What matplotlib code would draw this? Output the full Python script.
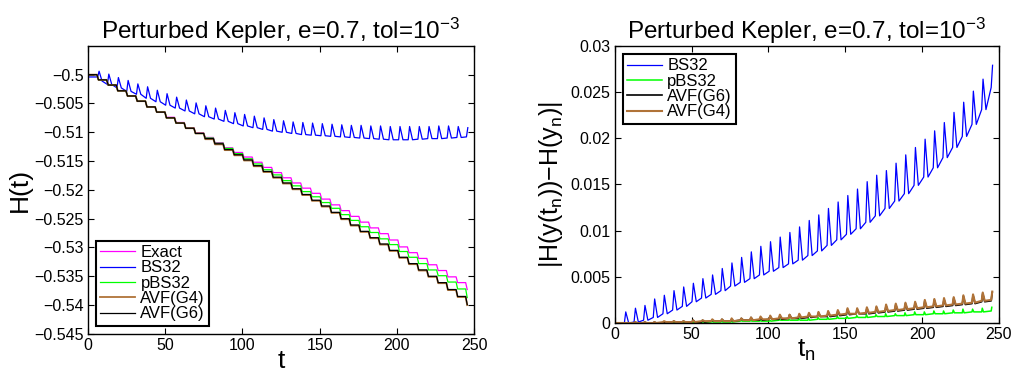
import numpy as np
import matplotlib.pyplot as plt

plt.rcParams['font.family'] = ['Liberation Sans', 'DejaVu Sans']
plt.rcParams['mathtext.fontset'] = 'custom'
plt.rcParams['mathtext.rm'] = 'Liberation Sans'
plt.rcParams['mathtext.it'] = 'Liberation Sans'

# perihelion passages (one per orbit)
t_orb = [0.0, 6.3, 12.6, 18.8, 25.1, 31.4, 37.7, 44.0, 50.3, 56.5,
         62.8, 69.1, 75.4, 81.7, 88.0, 94.2, 100.5, 106.8, 113.1, 119.4,
         125.7, 131.9, 138.2, 144.5, 150.8, 157.1, 163.4, 169.6, 175.9, 182.2,
         188.5, 194.8, 201.1, 207.3, 213.6, 219.9, 226.2, 232.5, 238.8, 245.0]

# ---- left panel: H(t), level after each perihelion step ----
H_avf6 = [-0.5000, -0.5009, -0.5018, -0.5028, -0.5037, -0.5046, -0.5056, -0.5065, -0.5075, -0.5084,
          -0.5093, -0.5102, -0.5111, -0.5120, -0.5130, -0.5139, -0.5148, -0.5158, -0.5168, -0.5178,
          -0.5188, -0.5198, -0.5208, -0.5218, -0.5228, -0.5239, -0.5250, -0.5261, -0.5272, -0.5283,
          -0.5294, -0.5305, -0.5317, -0.5328, -0.5339, -0.5350, -0.5361, -0.5373, -0.5385, -0.5399]
H_avf4 = [-0.5000, -0.5009, -0.5018, -0.5028, -0.5037, -0.5046, -0.5056, -0.5065, -0.5075, -0.5084,
          -0.5093, -0.5102, -0.5112, -0.5121, -0.5131, -0.5140, -0.5149, -0.5159, -0.5169, -0.5179,
          -0.5189, -0.5199, -0.5209, -0.5219, -0.5229, -0.5240, -0.5251, -0.5262, -0.5273, -0.5284,
          -0.5295, -0.5306, -0.5318, -0.5329, -0.5340, -0.5351, -0.5362, -0.5374, -0.5386, -0.5400]
H_exact = [-0.5000, -0.5009, -0.5018, -0.5028, -0.5037, -0.5046, -0.5056, -0.5065, -0.5074, -0.5083,
           -0.5092, -0.5101, -0.5109, -0.5118, -0.5127, -0.5135, -0.5143, -0.5152, -0.5161, -0.5170,
           -0.5179, -0.5188, -0.5197, -0.5206, -0.5216, -0.5226, -0.5236, -0.5246, -0.5256, -0.5266,
           -0.5276, -0.5287, -0.5299, -0.5309, -0.5319, -0.5330, -0.5340, -0.5351, -0.5361, -0.5373]
H_pbs = [-0.5000, -0.5009, -0.5018, -0.5028, -0.5037, -0.5046, -0.5056, -0.5065, -0.5075, -0.5084,
         -0.5093, -0.5102, -0.5110, -0.5119, -0.5128, -0.5137, -0.5146, -0.5155, -0.5165, -0.5174,
         -0.5184, -0.5193, -0.5203, -0.5212, -0.5222, -0.5232, -0.5243, -0.5253, -0.5264, -0.5274,
         -0.5285, -0.5295, -0.5307, -0.5317, -0.5328, -0.5339, -0.5349, -0.5360, -0.5372, -0.5387]
H_bs_low = [-0.5004, -0.5011, -0.5017, -0.5023, -0.5029, -0.5034, -0.5041, -0.5047, -0.5053, -0.5058,
            -0.5063, -0.5068, -0.5073, -0.5077, -0.5081, -0.5085, -0.5089, -0.5092, -0.5095, -0.5098,
            -0.5100, -0.5102, -0.5104, -0.5105, -0.5106, -0.5107, -0.5108, -0.5109, -0.5110, -0.5111,
            -0.5112, -0.5113, -0.5113, -0.5113, -0.5112, -0.5111, -0.5111, -0.5110, -0.5109, -0.5108]
H_bs_high = [-0.5004, -0.4994, -0.4999, -0.5005, -0.5010, -0.5016, -0.5021, -0.5027, -0.5033, -0.5039,
             -0.5044, -0.5049, -0.5054, -0.5058, -0.5062, -0.5066, -0.5069, -0.5072, -0.5075, -0.5078,
             -0.5080, -0.5082, -0.5083, -0.5084, -0.5085, -0.5086, -0.5087, -0.5088, -0.5088, -0.5089,
             -0.5089, -0.5090, -0.5090, -0.5090, -0.5090, -0.5090, -0.5089, -0.5089, -0.5090, -0.5092]

# ---- right panel: |H(y(t_n)) - H(y_n)| ----
E_bs_low = [0.0000, 0.0000, 0.0001, 0.0003, 0.0006, 0.0010, 0.0014, 0.0018, 0.0023, 0.0027,
            0.0031, 0.0035, 0.0040, 0.0044, 0.0048, 0.0052, 0.0056, 0.0060, 0.0064, 0.0068,
            0.0073, 0.0078, 0.0084, 0.0090, 0.0096, 0.0102, 0.0109, 0.0116, 0.0124, 0.0132,
            0.0140, 0.0149, 0.0158, 0.0168, 0.0179, 0.0190, 0.0202, 0.0215, 0.0231, 0.0255]
E_bs_high = [0.0000, 0.0012, 0.0016, 0.0019, 0.0026, 0.0030, 0.0035, 0.0039, 0.0043, 0.0048,
             0.0052, 0.0059, 0.0065, 0.0071, 0.0077, 0.0083, 0.0088, 0.0093, 0.0098, 0.0104,
             0.0111, 0.0117, 0.0124, 0.0131, 0.0138, 0.0145, 0.0153, 0.0160, 0.0165, 0.0173,
             0.0182, 0.0190, 0.0199, 0.0208, 0.0217, 0.0228, 0.0239, 0.0251, 0.0264, 0.0279]
E_pbs_low = [0.0000, 0.0000, 0.0000, 0.0000, 0.0000, 0.0000, 0.0000, 0.0000, 0.0000, 0.0001,
             0.0001, 0.0001, 0.0001, 0.0002, 0.0002, 0.0002, 0.0002, 0.0003, 0.0003, 0.0003,
             0.0003, 0.0004, 0.0004, 0.0005, 0.0005, 0.0006, 0.0006, 0.0007, 0.0007, 0.0008,
             0.0008, 0.0009, 0.0009, 0.0010, 0.0010, 0.0011, 0.0011, 0.0012, 0.0012, 0.0013]
E_pbs_high = [0.0000, 0.0000, 0.0000, 0.0000, 0.0000, 0.0000, 0.0001, 0.0001, 0.0001, 0.0001,
              0.0002, 0.0002, 0.0002, 0.0003, 0.0003, 0.0003, 0.0003, 0.0004, 0.0004, 0.0005,
              0.0005, 0.0006, 0.0006, 0.0007, 0.0007, 0.0008, 0.0009, 0.0009, 0.0010, 0.0010,
              0.0011, 0.0012, 0.0012, 0.0013, 0.0013, 0.0014, 0.0015, 0.0015, 0.0016, 0.0017]
E_avf4_low = [0.0000, 0.0000, 0.0000, 0.0000, 0.0000, 0.0001, 0.0001, 0.0001, 0.0001, 0.0002,
              0.0002, 0.0002, 0.0002, 0.0003, 0.0003, 0.0004, 0.0004, 0.0005, 0.0005, 0.0006,
              0.0007, 0.0007, 0.0008, 0.0009, 0.0010, 0.0010, 0.0011, 0.0012, 0.0013, 0.0014,
              0.0015, 0.0016, 0.0017, 0.0018, 0.0019, 0.0020, 0.0021, 0.0022, 0.0024, 0.0025]
E_avf4_high = [0.0000, 0.0000, 0.0001, 0.0001, 0.0001, 0.0002, 0.0002, 0.0002, 0.0003, 0.0003,
               0.0004, 0.0004, 0.0005, 0.0005, 0.0006, 0.0007, 0.0008, 0.0009, 0.0009, 0.0010,
               0.0011, 0.0012, 0.0013, 0.0014, 0.0016, 0.0016, 0.0017, 0.0018, 0.0020, 0.0021,
               0.0022, 0.0023, 0.0025, 0.0026, 0.0027, 0.0028, 0.0030, 0.0031, 0.0033, 0.0034]
E_avf6_low = [0.0000, 0.0000, 0.0000, 0.0000, 0.0000, 0.0000, 0.0001, 0.0001, 0.0001, 0.0001,
              0.0002, 0.0002, 0.0002, 0.0003, 0.0003, 0.0003, 0.0004, 0.0004, 0.0005, 0.0005,
              0.0006, 0.0007, 0.0007, 0.0008, 0.0009, 0.0010, 0.0010, 0.0011, 0.0012, 0.0013,
              0.0014, 0.0015, 0.0016, 0.0017, 0.0018, 0.0019, 0.0020, 0.0021, 0.0023, 0.0024]
E_avf6_high = [0.0000, 0.0000, 0.0001, 0.0001, 0.0001, 0.0001, 0.0002, 0.0002, 0.0003, 0.0003,
               0.0003, 0.0004, 0.0004, 0.0005, 0.0006, 0.0006, 0.0007, 0.0008, 0.0009, 0.0009,
               0.0010, 0.0011, 0.0012, 0.0013, 0.0015, 0.0015, 0.0016, 0.0017, 0.0019, 0.0020,
               0.0021, 0.0022, 0.0024, 0.0025, 0.0026, 0.0027, 0.0029, 0.0030, 0.0032, 0.0033]


def steps(t, lev, half=0.5):
    # staircase: flat between perihelia, short drop around each one
    xs, ys = [t[0]], [lev[0]]
    for k in range(1, len(t)):
        xs += [t[k] - half, t[k] + half]
        ys += [lev[k - 1], lev[k]]
    return xs, ys


def spikes(t, low, high, rise=1.0, fall=3.0):
    # excursion at each perihelion, then back down; lows joined between orbits
    xs, ys = [t[0]], [low[0]]
    for k in range(1, len(t)):
        xs += [t[k], t[k] + rise]
        ys += [low[k - 1] if k == 1 else low[k], high[k]]
        if k < len(t) - 1:
            xs.append(t[k] + fall)
            ys.append(low[k])
    return xs, ys


col_exact = (1, 0, 1)
col_bs = (0, 0, 1)
col_pbs = (0, 1, 0)
col_avf4 = (0.69, 0.45, 0.22)
col_avf6 = (0, 0, 0)
lw = 0.9

fig = plt.figure(figsize=(10.11, 3.76), dpi=100)
ax1 = fig.add_axes([0.087, 0.112, 0.382, 0.766])
ax2 = fig.add_axes([0.608, 0.141, 0.380, 0.737])

ax1.plot(*steps(t_orb, H_exact), color=col_exact, lw=lw, label='Exact')
ax1.plot(*spikes(t_orb, H_bs_low, H_bs_high, rise=0.9, fall=2.8), color=col_bs, lw=lw, label='BS32')
ax1.plot(*steps(t_orb, H_pbs), color=col_pbs, lw=lw, label='pBS32')
ax1.plot(*steps(t_orb, H_avf4), color=col_avf4, lw=lw + 0.4, label='AVF(G4)')
ax1.plot(*steps(t_orb, H_avf6), color=col_avf6, lw=lw, label='AVF(G6)')
ax1.set_xlim(0, 250)
ax1.set_ylim(-0.545, -0.495)
ax1.set_yticks([-0.545, -0.54, -0.535, -0.53, -0.525, -0.52, -0.515, -0.51, -0.505, -0.5])
ax1.set_yticklabels(['−0.545', '−0.54', '−0.535', '−0.53', '−0.525', '−0.52',
                     '−0.515', '−0.51', '−0.505', '−0.5'])
ax1.set_xlabel('t', fontsize=19, labelpad=-3)
ax1.set_ylabel('H(t)', fontsize=19, labelpad=2)

ax2.plot(*spikes(t_orb, E_bs_low, E_bs_high, rise=0.9, fall=2.8), color=col_bs, lw=lw, label='BS32')
ax2.plot(*spikes(t_orb, E_pbs_low, E_pbs_high, rise=0.4, fall=1.2), color=col_pbs, lw=lw + 0.2, label='pBS32')
ax2.plot(*spikes(t_orb, E_avf6_low, E_avf6_high, rise=0.7, fall=2.0), color=col_avf6, lw=lw + 0.3, label='AVF(G6)')
ax2.plot(*spikes(t_orb, E_avf4_low, E_avf4_high, rise=0.7, fall=2.0), color=col_avf4, lw=lw + 0.6, label='AVF(G4)')
ax2.set_xlim(0, 250)
ax2.set_ylim(0, 0.03)
ax2.set_yticks([0, 0.005, 0.01, 0.015, 0.02, 0.025, 0.03])
ax2.set_yticklabels(['0', '0.005', '0.01', '0.015', '0.02', '0.025', '0.03'])
ax2.set_xlabel('t$_\\mathregular{n}$', fontsize=19, labelpad=-3)
ax2.set_ylabel('|H(y(t$_\\mathregular{n}$))−H(y$_\\mathregular{n}$)|', fontsize=18, labelpad=4)

title = 'Perturbed Kepler, e=0.7, tol=10$^{\\mathregular{−3}}$'
for ax in (ax1, ax2):
    ax.set_title(title, fontsize=17.5, pad=5)
    ax.set_xticks([0, 50, 100, 150, 200, 250])
    ax.tick_params(direction='in', top=True, right=True, labelsize=11.5, length=4, width=0.8, pad=3)
    for s in ax.spines.values():
        s.set_linewidth(1.0)

leg1 = ax1.legend(loc='lower left', fontsize=12, frameon=True, fancybox=False, framealpha=1,
                  edgecolor='black', borderpad=0.25, labelspacing=0.02, handlelength=2.1,
                  handletextpad=0.3, borderaxespad=0.5)
leg2 = ax2.legend(loc='upper left', fontsize=12, frameon=True, fancybox=False, framealpha=1,
                  edgecolor='black', borderpad=0.25, labelspacing=0.02, handlelength=2.1,
                  handletextpad=0.3, borderaxespad=0.5)
for leg in (leg1, leg2):
    leg.get_frame().set_linewidth(1.5)

fig.savefig('out.png', dpi=100)
